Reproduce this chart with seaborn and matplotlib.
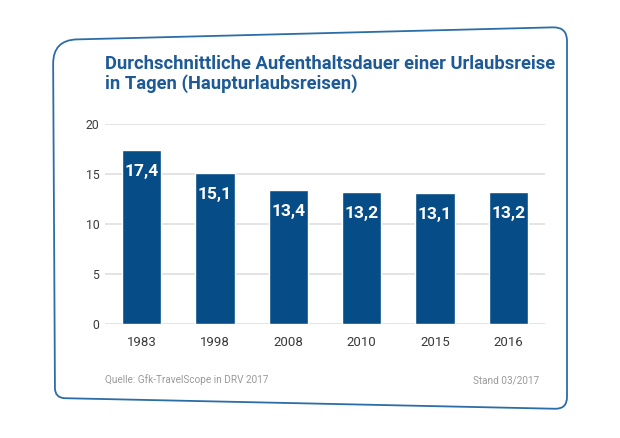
import numpy as np
import pandas as pd
import seaborn as sns
import matplotlib.pyplot as plt
from matplotlib.path import Path
from matplotlib.patches import PathPatch

# --- data ---
years = ['1983', '1998', '2008', '2010', '2015', '2016']
days = [17.4, 15.1, 13.4, 13.2, 13.1, 13.2]
y_ticks = [0, 5, 10, 15, 20]

title_line1 = 'Durchschnittliche Aufenthaltsdauer einer Urlaubsreise'
title_line2 = 'in Tagen (Haupturlaubsreisen)'
source_text = 'Quelle: Gfk-TravelScope in DRV 2017'
stand_text = 'Stand 03/2017'

df = pd.DataFrame({'Jahr': years, 'Tage': days})

BAR_BLUE = '#064c86'
TITLE_BLUE = '#1d5a97'
FRAME_BLUE = '#2c6da8'

sns.set_theme(style='white')
plt.rcParams['font.family'] = ['Roboto', 'DejaVu Sans']

W, H = 620, 438
fig = plt.figure(figsize=(W / 100, H / 100), dpi=100)


def px(x, y):
    # pixel position (from top-left) -> figure fraction
    return x / W, 1 - y / H


# --- card frame (slightly skewed rounded quadrilateral) ---
def rounded_poly(pts, radii):
    pts = [np.array(p, dtype=float) for p in pts]
    n = len(pts)
    verts, codes = [], []
    first = None
    for i in range(n):
        p, prev, nxt = pts[i], pts[i - 1], pts[(i + 1) % n]
        r = radii[i]
        a = p + (prev - p) / np.linalg.norm(prev - p) * r
        b = p + (nxt - p) / np.linalg.norm(nxt - p) * r
        if i == 0:
            first = a
            verts.append(a); codes.append(Path.MOVETO)
        else:
            verts.append(a); codes.append(Path.LINETO)
        verts += [p, b]
        codes += [Path.CURVE3, Path.CURVE3]
    verts.append(first); codes.append(Path.LINETO)
    verts.append(first); codes.append(Path.CLOSEPOLY)
    verts = [px(v[0], v[1]) for v in verts]
    return Path(verts, codes)


frame = rounded_poly([(53, 40), (567, 27), (567, 409), (55, 398)], [24, 14, 12, 10])
fig.patches.append(PathPatch(frame, transform=fig.transFigure, facecolor='white',
                             edgecolor=FRAME_BLUE, linewidth=1.3, zorder=-1))

# --- bar chart ---
ax = fig.add_axes([105 / W, 1 - 324 / H, 440 / W, 200 / H])
ax.set_zorder(1)
ax.set_facecolor('none')
sns.barplot(data=df, x='Jahr', y='Tage', color=BAR_BLUE, saturation=1,
            width=0.54, ax=ax, zorder=3)

ax.set_ylim(0, 20)
ax.set_xlim(-0.5, len(years) - 0.5)
ax.set_yticks(y_ticks)
ax.set_yticklabels([str(t) for t in y_ticks])
ax.yaxis.grid(True, color='#e4e4e4', linewidth=1.4, zorder=0)
ax.set_axisbelow(True)
for s in ax.spines.values():
    s.set_visible(False)
ax.set_xlabel('')
ax.set_ylabel('')
ax.tick_params(axis='both', length=0, labelcolor='#3a3a3a')
ax.tick_params(axis='x', pad=9, labelsize=9.5)
ax.tick_params(axis='y', pad=4, labelsize=8.8)

labels = [f'{v:.1f}'.replace('.', ',') for v in days]
ax.bar_label(ax.containers[0], labels=labels, padding=-21, color='white',
             fontsize=12.5, fontweight='bold')

# --- title and footnotes ---
fig.text(*px(105, 69), title_line1, color=TITLE_BLUE, fontsize=13.2,
         fontweight='bold', va='baseline', ha='left')
fig.text(*px(105, 89), title_line2, color=TITLE_BLUE, fontsize=13.2,
         fontweight='bold', va='baseline', ha='left')
fig.text(*px(105, 380), source_text, color='#9a9a9a', fontsize=7.2,
         va='center', ha='left')
fig.text(*px(539, 380), stand_text, color='#9a9a9a', fontsize=7.2,
         va='center', ha='right')

fig.savefig('out.png', dpi=100, facecolor='white')
